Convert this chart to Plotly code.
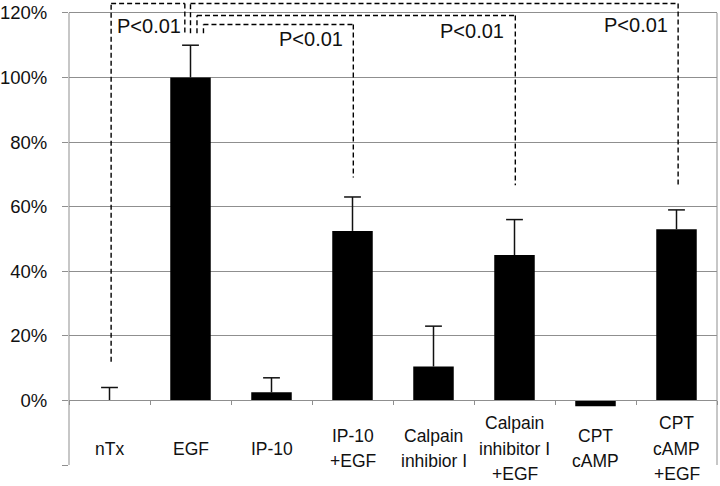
import plotly.graph_objects as go

# ---- data ----
categories = ["nTx", "EGF", "IP-10", "IP-10<br>+EGF", "Calpain<br>inhibior I",
              "Calpain<br>inhibitor I<br>+EGF", "CPT<br>cAMP", "CPT<br>cAMP<br>+EGF"]
values = [0, 100, 2.5, 52.5, 10.5, 45, -1.8, 53]          # percent
err_top = [4, 110, 7, 63, 23, 56, None, 59]               # top of error bar, percent

y_tickvals = [0, 20, 40, 60, 80, 100, 120]
y_ticktext = ["0%", "20%", "40%", "60%", "80%", "100%", "120%"]

# significance brackets: (x_left, x_right, y_left_bottom, y_top, y_right_bottom)
brackets = [
    (0.02, 0.93, 12.0, 122.9, 113.7),
    (1.00, 7.02, 113.7, 122.9, 66.6),
    (1.08, 5.01, 113.7, 119.2, 66.6),
    (1.16, 3.01, 113.7, 116.4, 69.0),
]
# bracket labels: (x, y, xanchor)
p_labels = [
    (0.07, 116.1, "left"),
    (6.92, 116.3, "right"),
    (4.90, 114.4, "right"),
    (2.91, 111.8, "right"),
]
p_text = "P<0.01"

FONT = "Liberation Sans, Arial, sans-serif"
GRID = "#8f8f8f"
ERR = "#111111"

xs = list(range(len(categories)))
err_plus = [None if t is None else t - v for t, v in zip(err_top, values)]
err_minus = [None if t is None else 0 for t in err_top]

fig = go.Figure()
fig.add_trace(go.Bar(
    x=xs, y=values, width=0.5,
    marker=dict(color="black", line=dict(width=0)),
    error_y=dict(type="data", symmetric=False, array=err_plus, arrayminus=err_minus,
                 color=ERR, thickness=1.5, width=0),
    showlegend=False, hoverinfo="skip",
))
# caps on top of the error bars only
fig.add_trace(go.Scatter(
    x=xs, y=err_top, mode="markers",
    marker=dict(symbol="line-ew", size=12, line=dict(width=1.5, color=ERR)),
    showlegend=False, hoverinfo="skip",
))

shapes = []
for xl, xr, yl, yt, yr in brackets:
    st = dict(type="line", xref="x", yref="y",
              line=dict(color="black", width=1.4, dash="5px,3px"))
    shapes.append(dict(st, x0=xl, x1=xl, y0=yl, y1=yt))
    shapes.append(dict(st, x0=xl, x1=xr, y0=yt, y1=yt))
    shapes.append(dict(st, x0=xr, x1=xr, y0=yt, y1=yr))
# left axis line and right border (from -20% to 120%)
shapes.append(dict(type="line", xref="paper", yref="y", x0=0, x1=0, y0=-20, y1=120,
                   line=dict(color=GRID, width=1)))
shapes.append(dict(type="line", xref="paper", yref="y", x0=1, x1=1, y0=-20, y1=120,
                   line=dict(color=GRID, width=1)))

annotations = []
for x, y, xa in p_labels:
    annotations.append(dict(x=x, y=y, xref="x", yref="y", text=p_text, showarrow=False,
                            xanchor=xa, yanchor="middle",
                            font=dict(family=FONT, size=20, color="#111111")))
for i, cat in enumerate(categories):
    lines = cat.split("<br>")
    n = len(lines)
    for j, line in enumerate(lines):
        annotations.append(dict(x=i, y=-14.9, xref="x", yref="y", text=line, showarrow=False,
                                xanchor="center", yanchor="middle",
                                yshift=-(j - (n - 1) / 2) * 25.5,
                                font=dict(family=FONT, size=17.5, color="#111111")))

ymin, ymax = -20, 124
fig.update_layout(
    width=720, height=486,
    margin=dict(l=69, r=3, t=0, b=21, autoexpand=False),
    paper_bgcolor="white", plot_bgcolor="white",
    shapes=shapes, annotations=annotations,
    xaxis=dict(range=[-0.5, len(categories) - 0.5], anchor="free",
               position=(0 - ymin) / (ymax - ymin),
               showline=True, linecolor=GRID, linewidth=1,
               tickvals=[i - 0.5 for i in range(len(categories) + 1)],
               ticks="outside", ticklen=4, tickcolor=GRID,
               showticklabels=False, showgrid=False, zeroline=False,
               automargin=False),
    yaxis=dict(range=[ymin, ymax], tickvals=y_tickvals, ticktext=y_ticktext,
               ticks="outside", ticklen=6, tickcolor=GRID,
               minor=dict(tickvals=[-20], ticks="outside", ticklen=6, tickcolor=GRID,
                          showgrid=False),
               showgrid=True, gridcolor=GRID, gridwidth=1,
               zeroline=False, showline=False, automargin=False,
               ticklabelstandoff=11,
               tickfont=dict(family=FONT, size=18.5, color="#111111")),
)

fig.write_html("out.html", config={"displayModeBar": False},
               post_script="document.body.style.margin='0';document.body.style.overflow='hidden';")
